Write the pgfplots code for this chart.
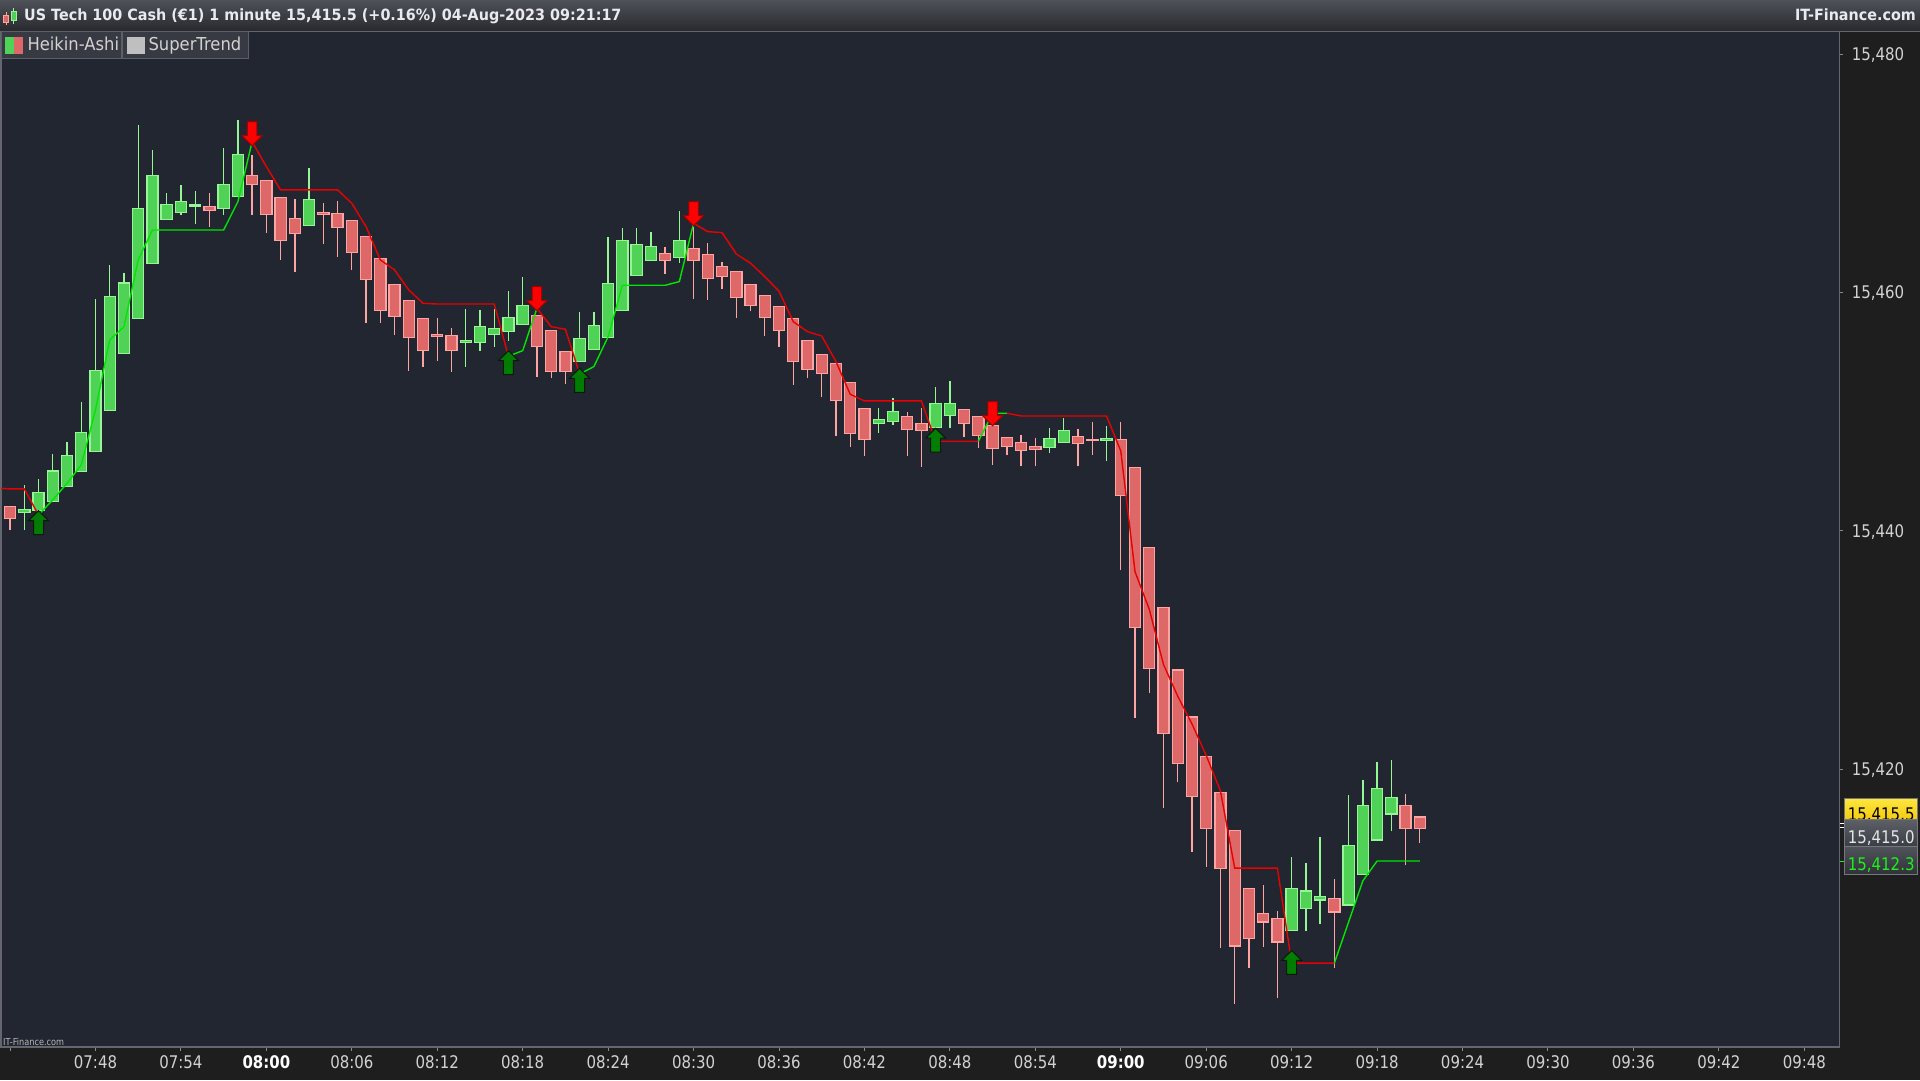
\documentclass[border=0pt]{standalone}
\usepackage{pgfplots}
\pgfplotsset{compat=1.18}
\usepackage{pgfplotstable}
\usepackage{fontspec}
\setmainfont{DejaVu Sans}
\newfontfamily\axf[FakeStretch=0.86]{DejaVu Sans}
\newfontfamily\titf[FakeStretch=0.925]{DejaVu Sans}
\newfontfamily\legf[FakeStretch=0.92]{DejaVu Sans}

\definecolor{imgbg}{HTML}{1E1E1E}
\definecolor{plotbg}{HTML}{222631}
\definecolor{tbtop}{HTML}{4E5158}
\definecolor{tbbot}{HTML}{27292E}
\definecolor{framec}{HTML}{63666E}
\definecolor{tickc}{HTML}{8A8A8A}
\definecolor{labc}{HTML}{D2D2D2}
\definecolor{titc}{HTML}{E8EAF0}
\definecolor{habodyg}{HTML}{50D257}
\definecolor{haedgeg}{HTML}{96F596}
\definecolor{habodyr}{HTML}{DE6868}
\definecolor{haedger}{HTML}{FFA3A3}
\definecolor{stred}{HTML}{E80000}
\definecolor{stgreen}{HTML}{00E600}
\definecolor{arrg}{HTML}{007D00}
\definecolor{arrgedge}{HTML}{0A1A0A}
\definecolor{arrr}{HTML}{FF0000}
\definecolor{arrredge}{HTML}{A00000}
\definecolor{legbg}{HTML}{373A42}
\definecolor{legedge}{HTML}{5C5F67}
\definecolor{boxtop}{HTML}{5D6067}
\definecolor{boxbot}{HTML}{3A3D43}
\definecolor{gboxtop}{HTML}{50535A}
\definecolor{gboxbot}{HTML}{303238}
\definecolor{boxedge}{HTML}{74777E}
\definecolor{yeltop}{HTML}{FFE640}
\definecolor{yelbot}{HTML}{F2C200}
\definecolor{stlab}{HTML}{1EF01E}

\pgfdeclareplotmark{uparr}{%
  \pgfpathmoveto{\pgfqpoint{0pt}{0pt}}%
  \pgfpathlineto{\pgfqpoint{10pt}{-10pt}}%
  \pgfpathlineto{\pgfqpoint{5pt}{-10pt}}%
  \pgfpathlineto{\pgfqpoint{5pt}{-24pt}}%
  \pgfpathlineto{\pgfqpoint{-5pt}{-24pt}}%
  \pgfpathlineto{\pgfqpoint{-5pt}{-10pt}}%
  \pgfpathlineto{\pgfqpoint{-10pt}{-10pt}}%
  \pgfpathclose
  \pgfusepathqfillstroke}
\pgfdeclareplotmark{dnarr}{%
  \pgfpathmoveto{\pgfqpoint{0pt}{0pt}}%
  \pgfpathlineto{\pgfqpoint{10pt}{10pt}}%
  \pgfpathlineto{\pgfqpoint{4.7pt}{10pt}}%
  \pgfpathlineto{\pgfqpoint{4.7pt}{24pt}}%
  \pgfpathlineto{\pgfqpoint{-4.7pt}{24pt}}%
  \pgfpathlineto{\pgfqpoint{-4.7pt}{10pt}}%
  \pgfpathlineto{\pgfqpoint{-10pt}{10pt}}%
  \pgfpathclose
  \pgfusepathqfillstroke}

\pgfplotstableread{
x o h l c
462 15442.07 15442.07 15440.08 15441.06
463 15441.57 15443.86 15440.08 15441.82
464 15441.70 15444.36 15441.20 15443.24
465 15442.46 15446.46 15442.46 15445.03
466 15443.72 15447.46 15443.72 15446.35
467 15445.00 15450.79 15445.00 15448.27
468 15446.68 15459.43 15446.68 15453.47
469 15450.12 15462.31 15450.12 15459.68
470 15454.90 15461.64 15454.90 15460.80
471 15457.83 15474.05 15457.83 15467.06
472 15462.45 15471.95 15462.45 15469.83
473 15466.14 15468.32 15466.14 15467.39
474 15466.72 15469.01 15466.50 15467.64
475 15467.20 15468.51 15465.77 15467.34
476 15467.23 15468.32 15465.52 15466.89
477 15467.06 15472.09 15466.50 15469.07
478 15468.07 15474.47 15468.07 15471.59
479 15469.83 15471.53 15466.50 15469.07
480 15469.41 15469.41 15465.02 15466.56
481 15467.98 15467.98 15462.75 15464.38
482 15466.22 15467.84 15461.75 15464.96
483 15465.63 15470.44 15465.63 15467.81
484 15466.72 15467.53 15464.04 15466.56
485 15466.64 15467.67 15463.00 15465.46
486 15466.05 15466.05 15461.92 15463.37
487 15464.71 15464.71 15457.47 15461.11
488 15462.87 15462.87 15457.47 15458.50
489 15460.69 15460.69 15456.47 15458.00
490 15459.34 15459.34 15453.44 15456.24
491 15457.83 15457.83 15453.78 15455.15
492 15456.49 15457.83 15454.28 15456.32
493 15456.41 15456.99 15453.36 15455.15
494 15455.79 15458.59 15453.78 15455.96
495 15455.82 15458.50 15455.12 15457.16
496 15456.49 15458.59 15455.46 15456.99
497 15456.74 15460.12 15455.96 15457.92
498 15457.33 15461.30 15457.33 15458.92
499 15458.09 15458.09 15452.94 15455.46
500 15456.83 15456.83 15452.86 15453.39
501 15455.07 15455.07 15452.35 15453.39
502 15454.23 15458.33 15454.23 15456.15
503 15455.23 15458.33 15455.23 15457.25
504 15456.24 15464.65 15456.24 15460.77
505 15458.50 15465.41 15458.50 15464.38
506 15461.44 15465.41 15461.44 15464.04
507 15462.69 15465.07 15462.69 15463.87
508 15463.28 15463.78 15461.58 15462.69
509 15462.95 15466.81 15462.50 15464.38
510 15463.70 15465.52 15459.48 15462.69
511 15463.20 15464.12 15459.40 15461.19
512 15462.19 15462.53 15460.32 15461.36
513 15461.78 15461.78 15457.83 15459.59
514 15460.69 15460.69 15458.42 15458.92
515 15459.76 15459.76 15456.32 15457.92
516 15458.84 15458.84 15455.46 15456.83
517 15457.83 15457.83 15452.27 15454.20
518 15455.99 15455.99 15452.86 15453.56
519 15454.81 15454.81 15451.27 15453.22
520 15454.06 15454.06 15447.99 15450.96
521 15452.47 15452.47 15447.07 15448.19
522 15450.29 15450.29 15446.32 15447.69
523 15449.03 15450.29 15448.25 15449.37
524 15449.20 15451.12 15448.92 15450.03
525 15449.62 15449.95 15446.32 15448.53
526 15449.03 15450.29 15445.39 15448.44
527 15448.69 15452.05 15448.69 15450.71
528 15449.70 15452.55 15448.61 15450.71
529 15450.20 15450.20 15447.91 15449.03
530 15449.62 15449.62 15446.93 15448.02
531 15448.86 15448.86 15445.51 15446.93
532 15447.85 15447.85 15446.35 15447.10
533 15447.43 15448.02 15445.42 15446.76
534 15447.10 15447.77 15445.42 15446.85
535 15447.02 15448.61 15446.51 15447.77
536 15447.43 15449.45 15447.43 15448.44
537 15447.94 15448.53 15445.42 15447.35
538 15447.66 15449.11 15446.35 15447.57
539 15447.60 15448.78 15445.84 15447.77
540 15447.69 15449.11 15436.74 15442.98
541 15445.33 15445.33 15424.31 15431.90
542 15438.63 15438.63 15426.40 15428.46
543 15433.59 15433.59 15416.78 15423.02
544 15428.32 15428.32 15418.94 15420.50
545 15424.38 15424.38 15413.10 15417.75
546 15421.10 15421.10 15411.84 15415.06
547 15418.08 15418.08 15404.98 15411.68
548 15414.89 15414.89 15400.34 15405.18
549 15410.02 15410.02 15403.36 15405.84
550 15407.93 15410.32 15405.08 15407.20
551 15407.50 15408.13 15400.84 15405.51
552 15406.51 15412.67 15406.51 15410.02
553 15408.30 15412.14 15406.41 15409.79
554 15409.03 15414.33 15407.00 15409.36
555 15409.19 15410.82 15403.32 15408.03
556 15408.63 15417.85 15408.63 15413.63
557 15411.15 15419.11 15411.15 15416.98
558 15414.07 15420.63 15414.07 15418.41
559 15416.25 15420.76 15414.80 15417.65
560 15416.98 15417.94 15411.94 15415.06
561 15415.99 15416.09 15413.80 15415.06
}\hatable

\begin{document}
\begin{tikzpicture}[x=1pt,y=1pt]
\fill[imgbg] (0,0) rectangle (1920,1080);
\shade[top color=tbtop,bottom color=tbbot] (0,1048.8) rectangle (1920,1080);
\draw[framec,line width=1.2pt] (0,1048.8)--(1920,1048.8);
\begin{axis}[
  at={(1pt,33pt)}, anchor=south west,
  width=1838.3pt, height=1015.5pt, scale only axis,
  xmin=461.364, xmax=590.458, ymin=15396.71, ymax=15481.887,
  scaled x ticks=false, scaled y ticks=false,
  axis background/.style={fill=plotbg},
  axis line style={draw=framec, line width=1.2pt},
  unbounded coords=jump,
  xtick={462,468,...,588},
  xticklabels={,07:48,07:54,\textcolor{white}{\bfseries 08:00},08:06,08:12,08:18,08:24,08:30,08:36,08:42,08:48,08:54,\textcolor{white}{\bfseries 09:00},09:06,09:12,09:18,09:24,09:30,09:36,09:42,09:48},
  ytick={15420,15440,15460,15480},
  yticklabels={{15,420},{15,440},{15,460},{15,480}},
  xtick pos=bottom, ytick pos=right, yticklabel pos=right,
  tick align=outside, major tick length=4pt,
  every tick/.style={draw=tickc, line width=1pt},
  xticklabel style={font=\axf\fontsize{17.4}{20}\selectfont, text=labc, inner sep=0pt, anchor=base, yshift=-17.6pt},
  yticklabel style={font=\axf\fontsize{17.4}{20}\selectfont, text=labc, inner sep=0pt, anchor=base west, xshift=8.4pt, yshift=-6.35pt},
  xticklabel shift=0pt, yticklabel shift=0pt,
  hagreen wick/.style={draw=haedgeg, line width=1.3pt, mark=none, forget plot},
  hared wick/.style={draw=haedger, line width=1.3pt, mark=none, forget plot},
  hagreen body/.style={fill=habodyg, draw=haedgeg, line width=1.3pt, mark=none, forget plot},
  hared body/.style={fill=habodyr, draw=haedger, line width=1.3pt, mark=none, forget plot},
]
\pgfplotstablegetrowsof{\hatable}
\pgfmathtruncatemacro{\nrows}{\pgfplotsretval-1}
\pgfplotsforeachungrouped \i in {0,...,\nrows}{%
  \pgfplotstablegetelem{\i}{x}\of\hatable \let\cx\pgfplotsretval
  \pgfplotstablegetelem{\i}{o}\of\hatable \let\co\pgfplotsretval
  \pgfplotstablegetelem{\i}{h}\of\hatable \let\ch\pgfplotsretval
  \pgfplotstablegetelem{\i}{l}\of\hatable \let\cl\pgfplotsretval
  \pgfplotstablegetelem{\i}{c}\of\hatable \let\cc\pgfplotsretval
  \pgfmathsetmacro{\xa}{\cx-0.39}%
  \pgfmathsetmacro{\xb}{\cx+0.39}%
  \ifdim\cc pt>\co pt \def\cst{hagreen}\else\def\cst{hared}\fi
  \edef\temp{\noexpand\addplot[\cst\space wick] coordinates {(\cx,\cl) (\cx,\ch)};
    \noexpand\addplot[\cst\space body] coordinates {(\xa,\co) (\xb,\co) (\xb,\cc) (\xa,\cc)} -- cycle;}%
  \temp
}
% SuperTrend, red stretches
\addplot[stred, line width=1.4pt, mark=none, forget plot] coordinates {
(461,15443.6) (462,15443.52) (463,15443.52) (464,15441.34) (470,nan)
(479,15472.65) (480,15470.55) (481,15468.60) (482,15468.60) (483,15468.60) (484,15468.60) (485,15468.60) (486,15467.48) (487,15465.52) (488,15462.73) (489,15461.89) (490,15460.21) (491,15459.09) (492,15459.03) (493,15459.03) (494,15459.03) (495,15459.03) (496,15459.03) (497,15454.65) (498,nan)
(499,15458.67) (500,15457.13) (501,15456.91) (502,15453.16) (503,nan)
(510,15465.80) (511,15465.10) (512,15465.02) (513,15463.23) (514,15462.45) (515,15461.33) (516,15460.10) (517,15457.55) (518,15456.71) (519,15456.35) (520,15454.20) (521,15451.46) (522,15450.90) (523,15450.90) (524,15450.90) (525,15450.90) (526,15450.90) (527,15447.52) (528,15447.52) (529,15447.52) (530,15447.52) (531,nan)
(532,15449.87) (533,15449.64) (534,15449.64) (535,15449.64) (536,15449.64) (537,15449.64) (538,15449.64) (539,15449.64) (540,15446.70) (541,15436.58) (542,15433.43) (543,15428.79) (544,15426.13) (545,15423.81) (546,15421.16) (547,15418.18) (548,15411.71) (549,15411.71) (550,15411.71) (551,15411.71) (552,15403.75) (553,15403.75) (554,15403.75) (555,15403.75)
};
% SuperTrend, green stretches
\addplot[stgreen, line width=1.4pt, mark=none, forget plot] coordinates {
(464,15441.34) (465,15442.60) (466,15443.99) (467,15445.53) (468,15450.14) (469,15456.02) (470,15457.13) (471,15462.73) (472,15465.24) (473,15465.24) (474,15465.24) (475,15465.24) (476,15465.24) (477,15465.24) (478,15467.62) (479,15472.65) (480,nan)
(497,15454.65) (498,15455.12) (499,15458.67) (500,nan)
(502,15453.16) (503,15453.78) (504,15456.29) (505,15460.60) (506,15460.60) (507,15460.60) (508,15460.60) (509,15460.91) (510,15465.80) (511,nan)
(530,15447.52) (531,15449.87) (532,15449.87) (533,nan)
(555,15403.75) (556,15407.20) (557,15410.65) (558,15412.31) (559,15412.31) (560,15412.31) (561,15412.31)
};
% signal arrows
\addplot[only marks, mark=uparr, mark options={fill=arrg, draw=arrgedge, line width=1pt}, forget plot] coordinates {
(464,15441.70) (497,15455.12) (502,15453.64) (527,15448.61) (552,15404.81)};
\addplot[only marks, mark=dnarr, mark options={fill=arrr, draw=arrredge, line width=1pt}, forget plot] coordinates {
(479,15472.31) (499,15458.47) (510,15465.60) (531,15448.82)};
\end{axis}
% title bar
\fill[habodyr, draw=haedger, line width=0.8pt] (3.5,1058) rectangle (8.5,1065);
\draw[haedger, line width=0.8pt] (6,1055)--(6,1058) (6,1065)--(6,1068);
\draw[haedgeg, line width=0.8pt] (13.7,1056)--(13.7,1072);
\fill[habodyg, draw=haedgeg, line width=0.8pt] (11,1060) rectangle (16.5,1069);
\node[anchor=base west, inner sep=0pt, text=titc] at (24,1059.3) {\titf\bfseries\fontsize{15.5}{18}\selectfont US Tech 100 Cash (€1) 1 minute 15,415.5 (+0.16\%) 04-Aug-2023 09:21:17};
\node[anchor=base east, inner sep=0pt, text=titc] at (1916,1059.3) {\titf\bfseries\fontsize{15.5}{18}\selectfont IT-Finance.com};
% legend
\fill[legbg, draw=legedge, line width=1pt] (1,1021.7) rectangle (121.7,1048.3);
\fill[legbg, draw=legedge, line width=1pt] (122.7,1021.7) rectangle (248.3,1048.3);
\fill[habodyg] (5,1025.7) rectangle (13.9,1043.3);
\fill[habodyr] (13.9,1025.7) rectangle (22.7,1043.3);
\fill[white!75!black] (127.3,1025.7) rectangle (145,1043.3);
\node[anchor=base west, inner sep=0pt, text=labc] at (27.3,1029.3) {\legf\fontsize{17.8}{20}\selectfont Heikin-Ashi};
\node[anchor=base west, inner sep=0pt, text=labc] at (148.3,1029.3) {\legf\fontsize{17.8}{20}\selectfont SuperTrend};
% watermark
\node[anchor=base west, inner sep=0pt, text=white!72!black] at (3,35) {\axf\fontsize{9.5}{11}\selectfont IT-Finance.com};
% price boxes on the right axis
\shade[top color=yeltop, bottom color=yelbot] (1844.3,254) rectangle (1917.7,281.7);
\draw[boxedge, line width=1pt] (1844.3,254) rectangle (1917.7,281.7);
\node[anchor=base west, inner sep=0pt, text=black] at (1847.7,259) {\axf\fontsize{17.4}{20}\selectfont 15,415.5};
\shade[top color=boxtop, bottom color=boxbot] (1844.3,233.3) rectangle (1917.7,260.7);
\draw[boxedge, line width=1pt] (1844.3,233.3) rectangle (1917.7,260.7);
\node[anchor=base west, inner sep=0pt, text=white!90!black] at (1847.7,236.7) {\axf\fontsize{17.4}{20}\selectfont 15,415.0};
\shade[top color=gboxtop, bottom color=gboxbot] (1844.3,205.7) rectangle (1917.7,233.3);
\draw[boxedge, line width=1pt] (1844.3,205.7) rectangle (1917.7,233.3);
\node[anchor=base west, inner sep=0pt, text=stlab] at (1847.7,209.3) {\axf\fontsize{17.4}{20}\selectfont 15,412.3};
\draw[white, line width=1pt] (1840,256.7)--(1844,256.7) (1840,252.7)--(1844,252.7);
\draw[stlab, line width=1pt] (1840,219)--(1844,219);
\pgfresetboundingbox
\useasboundingbox (0,0) rectangle (1920,1080);
\end{tikzpicture}
\end{document}
